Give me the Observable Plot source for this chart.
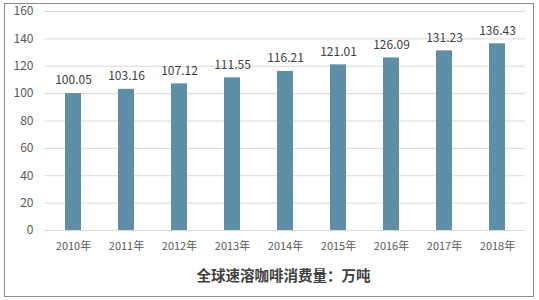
<!DOCTYPE html>
<html>
<head>
<meta charset="utf-8">
<script src="https://cdn.jsdelivr.net/npm/d3@7"></script>
<script src="https://cdn.jsdelivr.net/npm/@observablehq/plot@0.6"></script>
<style>
  body { margin: 0; background: #fff; }
  #wrap { position: relative; width: 539px; height: 300px; font-family: "Noto Sans CJK SC", "Noto Sans", sans-serif; }
  #frame { position: absolute; left: 4px; top: 3px; width: 528px; height: 292px; border: 1px solid #8c8c8c; pointer-events: none; }
  #title { position: absolute; left: 14px; width: 539px; top: 264px; line-height: 21px; text-align: center; font-size: 14.5px; font-weight: bold; color: #404040; }
  #chart { position: absolute; left: 0; top: 0; }
</style>
</head>
<body>
<div id="wrap">
  <div id="chart"></div>
  <div id="title">全球速溶咖啡消费量：万吨</div>
  <div id="frame"></div>
</div>
<script>
const years = ["2010年","2011年","2012年","2013年","2014年","2015年","2016年","2017年","2018年"];
const values = [100.05, 103.16, 107.12, 111.55, 116.21, 121.01, 126.09, 131.23, 136.43];
const yTicks = [0, 20, 40, 60, 80, 100, 120, 140, 160];

const data = years.map((y, i) => ({year: y, value: values[i]}));

const chart = Plot.plot({
  width: 539,
  height: 262,
  marginLeft: 44,
  marginRight: 14,
  marginTop: 11,
  marginBottom: 32,
  style: {fontFamily: '"Noto Sans CJK SC", "Noto Sans", sans-serif', fontSize: "11px", color: "#595959", background: "transparent"},
  x: {domain: years, paddingInner: 0.7, paddingOuter: 0.35, label: null, tickSize: 0, tickPadding: 12},
  y: {domain: [0, 160], ticks: yTicks, label: null, tickSize: 0, tickPadding: 11},
  marks: [
    Plot.ruleY(yTicks, {stroke: "#d9d9d9", strokeWidth: 1}),
    Plot.barY(data, {x: "year", y: "value", fill: "#5e8fa6"}),
    Plot.text(data, {x: "year", y: "value", text: d => d.value.toFixed(2), dy: -13, fill: "#404040", fontSize: 12}),
    Plot.axisX({tickSize: 0, tickPadding: 12, fill: "#595959"}),
    Plot.axisY({ticks: yTicks, tickSize: 0, tickPadding: 11, fill: "#595959", fontSize: 12})
  ]
});
document.getElementById("chart").appendChild(chart);
</script>
</body>
</html>
